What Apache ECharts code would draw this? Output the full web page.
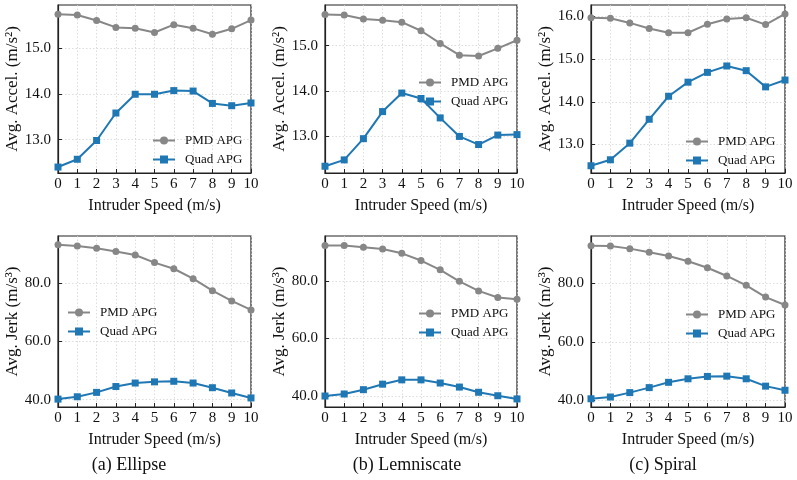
<!DOCTYPE html>
<html lang="en">
<head>
    <meta charset="utf-8">
    <title>APG comparison</title>
    <script src="https://cdn.jsdelivr.net/npm/echarts@6/dist/echarts.min.js"></script>
    <style>
        body { margin: 0; background: #fff; }
        #main { width: 797px; height: 480px; }
    </style>
</head>
<body>
<div id="main"></div>
<script type="text/javascript">
    // intruder speeds (m/s)
    var speeds = [0, 1, 2, 3, 4, 5, 6, 7, 8, 9, 10];

    // average acceleration (m/s^2)
    var ellipseAccelPmd = [15.74, 15.72, 15.60, 15.45, 15.43, 15.34, 15.51, 15.43, 15.30, 15.42, 15.61];
    var ellipseAccelQuad = [12.40, 12.57, 12.98, 13.58, 13.99, 13.99, 14.07, 14.06, 13.79, 13.74, 13.80];
    var lemAccelPmd = [15.69, 15.68, 15.59, 15.56, 15.52, 15.33, 15.05, 14.79, 14.77, 14.94, 15.12];
    var lemAccelQuad = [12.33, 12.47, 12.94, 13.54, 13.95, 13.83, 13.40, 12.99, 12.81, 13.02, 13.03];
    var spiralAccelPmd = [15.97, 15.96, 15.85, 15.72, 15.62, 15.62, 15.82, 15.94, 15.97, 15.81, 16.06];
    var spiralAccelQuad = [12.50, 12.64, 13.03, 13.59, 14.13, 14.46, 14.69, 14.84, 14.73, 14.35, 14.51];

    // average jerk (m/s^3)
    var ellipseJerkPmd = [93.0, 92.6, 91.8, 90.7, 89.5, 86.9, 84.8, 81.4, 77.3, 73.8, 70.7];
    var ellipseJerkQuad = [40.2, 41.0, 42.5, 44.5, 45.7, 46.1, 46.3, 45.7, 44.1, 42.3, 40.6];
    var lemJerkPmd = [92.2, 92.2, 91.6, 91.0, 89.5, 87.0, 83.8, 79.8, 76.5, 74.2, 73.6];
    var lemJerkQuad = [40.1, 40.8, 42.3, 44.2, 45.7, 45.7, 44.6, 43.2, 41.4, 40.2, 39.1];
    var spiralJerkPmd = [92.7, 92.6, 91.7, 90.5, 89.2, 87.4, 85.2, 82.4, 79.2, 75.2, 72.5];
    var spiralJerkQuad = [40.6, 41.2, 42.7, 44.4, 46.2, 47.4, 48.2, 48.3, 47.4, 44.9, 43.5];

    var accelTicks = [13, 14, 15];
    var accelTicksSpiral = [13, 14, 15, 16];
    var jerkTicks = [40, 60, 80];
    var captions = ['(a) Ellipse', '(b) Lemniscate', '(c) Spiral'];

    var FONT = '"Liberation Serif", "DejaVu Serif", serif';
    var GRAY = '#878787';
    var BLUE = '#1f77b4';

    var panels = [
        {grid: [58, 5, 193, 168], yr: [12.27, 15.94], ticks: accelTicks, name: 'Avg. Accel. (m/s²)', pmd: ellipseAccelPmd, quad: ellipseAccelQuad, leg: [147, 129]},
        {grid: [325, 5, 192, 168], yr: [12.18, 15.90], ticks: accelTicks, name: 'Avg. Accel. (m/s²)', pmd: lemAccelPmd, quad: lemAccelQuad, leg: [413, 71]},
        {grid: [591, 5, 194, 168], yr: [12.33, 16.27], ticks: accelTicksSpiral, name: 'Avg. Accel. (m/s²)', pmd: spiralAccelPmd, quad: spiralAccelQuad, leg: [680, 130]},
        {grid: [58, 236, 193, 171], yr: [37.5, 96.0], ticks: jerkTicks, name: 'Avg. Jerk (m/s³)', pmd: ellipseJerkPmd, quad: ellipseJerkQuad, leg: [62, 301]},
        {grid: [325, 236, 192, 171], yr: [36.3, 95.5], ticks: jerkTicks, name: 'Avg. Jerk (m/s³)', pmd: lemJerkPmd, quad: lemJerkQuad, leg: [413, 302]},
        {grid: [591, 236, 194, 171], yr: [37.8, 96.0], ticks: jerkTicks, name: 'Avg. Jerk (m/s³)', pmd: spiralJerkPmd, quad: spiralJerkQuad, leg: [680, 303]}
    ];

    function pairs(ys) {
        return speeds.map(function (x, i) { return [x, ys[i]]; });
    }

    var grids = [], xAxes = [], yAxes = [], series = [], legends = [];
    var splitStyle = {show: true, lineStyle: {color: '#d4d4d4', type: [1.5, 2], width: 0.8}};

    panels.forEach(function (p, i) {
        grids.push({
            left: p.grid[0], top: p.grid[1], width: p.grid[2], height: p.grid[3],
            show: true, borderColor: '#222', borderWidth: 1.2, backgroundColor: 'transparent'
        });
        xAxes.push({
            type: 'value', gridIndex: i, min: 0, max: 10, interval: 1,
            name: 'Intruder Speed (m/s)', nameLocation: 'middle', nameGap: 25,
            nameTextStyle: {fontFamily: FONT, fontSize: 16, color: '#111'},
            axisLine: {show: true, lineStyle: {color: '#222', width: 1.2}},
            axisTick: {show: true, inside: true, length: 4, lineStyle: {color: '#222'}},
            axisLabel: {fontFamily: FONT, fontSize: 15, color: '#111', margin: 4},
            splitLine: splitStyle
        });
        yAxes.push({
            type: 'value', gridIndex: i, min: p.yr[0], max: p.yr[1],
            name: p.name, nameLocation: 'middle', nameGap: 36,
            nameTextStyle: {fontFamily: FONT, fontSize: 17, color: '#111'},
            axisLine: {show: true, lineStyle: {color: '#222', width: 1.2}},
            axisTick: {show: true, inside: true, length: 4, customValues: p.ticks, lineStyle: {color: '#222'}},
            axisLabel: {fontFamily: FONT, fontSize: 15, color: '#111', margin: 7, customValues: p.ticks,
                formatter: function (v) { return v.toFixed(1); }},
            splitLine: splitStyle
        });
        series.push({
            name: 'PMD APG', type: 'line', xAxisIndex: i, yAxisIndex: i,
            data: pairs(p.pmd), symbol: 'circle', symbolSize: 7,
            lineStyle: {color: GRAY, width: 2}, itemStyle: {color: GRAY},
            clip: false, animation: false
        });
        series.push({
            name: 'Quad APG', type: 'line', xAxisIndex: i, yAxisIndex: i,
            data: pairs(p.quad), symbol: 'rect', symbolSize: 7,
            lineStyle: {color: BLUE, width: 2}, itemStyle: {color: BLUE},
            clip: false, animation: false
        });
        legends.push({
            left: p.leg[0], top: p.leg[1], orient: 'vertical',
            data: ['PMD APG', 'Quad APG'],
            itemWidth: 22, itemHeight: 10, itemGap: 6,
            selectedMode: false,
            textStyle: {fontFamily: FONT, fontSize: 13, color: '#111', padding: [0, 0, 0, 5]}
        });
    });

    var captionX = [129, 407, 663];
    var graphics = captions.map(function (c, i) {
        return {
            type: 'text', x: captionX[i], y: 465,
            style: {text: c, font: '18px ' + FONT, fill: '#111', textAlign: 'center', textVerticalAlign: 'middle'}
        };
    });

    var myChart = echarts.init(document.getElementById('main'), null, {renderer: 'canvas'});
    myChart.setOption({
        animation: false,
        backgroundColor: '#fff',
        grid: grids,
        xAxis: xAxes,
        yAxis: yAxes,
        legend: legends,
        series: series,
        graphic: graphics
    });
</script>
</body>
</html>
